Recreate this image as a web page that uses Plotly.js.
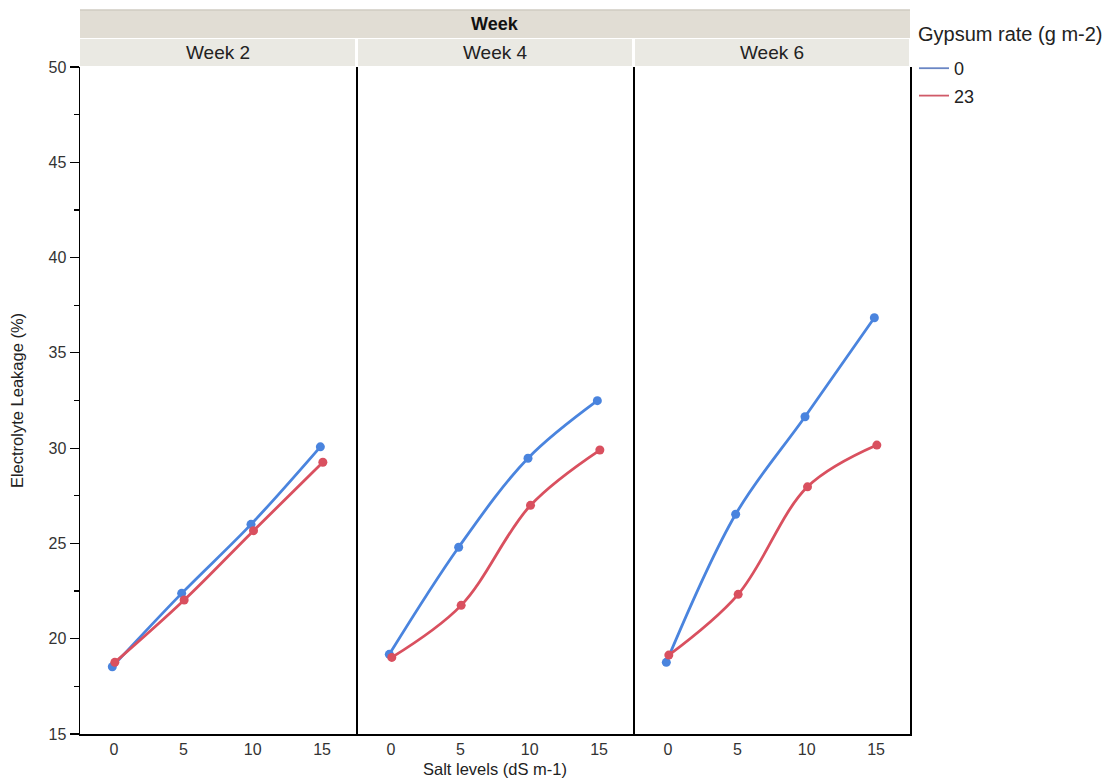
<!DOCTYPE html>
<html>
<head>
<meta charset="utf-8">
<script src="https://cdn.plot.ly/plotly-3.0.1.min.js"></script>
<style>html,body{margin:0;padding:0;background:#fff}#chart{width:1115px;height:780px}</style>
</head>
<body>
<div id="chart"></div>
<script>
// ---- data ----
const saltLevels = [0, 5, 10, 15];
const weeks = ["Week 2", "Week 4", "Week 6"];
const gypsumRates = ["0", "23"];
const week2_g0  = [18.53, 22.38, 26.00, 30.07];
const week2_g23 = [18.76, 22.03, 25.67, 29.26];
const week4_g0  = [19.18, 24.80, 29.47, 32.49];
const week4_g23 = [19.02, 21.75, 27.00, 29.90];
const week6_g0  = [18.76, 26.53, 31.65, 36.84];
const week6_g23 = [19.14, 22.33, 27.97, 30.16];
const yTicks = [15, 20, 25, 30, 35, 40, 45, 50];

const series = {
  "0":  [week2_g0, week4_g0, week6_g0],
  "23": [week2_g23, week4_g23, week6_g23]
};
const colors = {"0": "#4a84de", "23": "#d9505f"};
const legendColors = {"0": "#6a86c4", "23": "#d05a68"};
const dodge = {"0": -0.12, "23": 0.06};

const traces = [];
weeks.forEach((w, i) => {
  const xa = i === 0 ? "x" : "x" + (i + 1);
  const ya = i === 0 ? "y" : "y" + (i + 1);
  gypsumRates.forEach(g => {
    traces.push({
      type: "scatter", mode: "lines+markers",
      x: saltLevels.map(v => v + dodge[g]), y: series[g][i],
      xaxis: xa, yaxis: ya,
      line: {color: colors[g], width: 2.8, shape: "spline", smoothing: 1},
      marker: {color: colors[g], size: 9},
      showlegend: false, hoverinfo: "x+y"
    });
  });
});
gypsumRates.forEach(g => {
  traces.push({
    type: "scatter", mode: "lines", x: [null], y: [null],
    name: g, legendgroup: "g" + g,
    line: {color: legendColors[g], width: 1.8}, showlegend: true
  });
});

const W = 1115, H = 780, L = 80, R = 910, T = 67, B = 734;
const pw = R - L, ph = B - T;
const px = v => (v - L) / pw;
const py = v => (B - v) / ph;
const panels = [[80, 356], [357, 633], [634, 910]];

const font = {family: "Liberation Sans, Arial, sans-serif", color: "#222"};
const layout = {
  width: W, height: H,
  margin: {l: L, r: W - R, t: T, b: H - B},
  paper_bgcolor: "#fff", plot_bgcolor: "#fff",
  font: font,
  showlegend: true,
  legend: {
    x: px(914), y: py(50), xanchor: "left", yanchor: "top",
    font: {size: 18, color: "#222"}, itemwidth: 30, tracegroupgap: 1,
    bgcolor: "rgba(0,0,0,0)"
  },
  shapes: [], annotations: []
};

panels.forEach((p, i) => {
  const sfx = i === 0 ? "" : String(i + 1);
  layout["xaxis" + sfx] = {
    domain: [px(p[0]), px(p[1])],
    range: [-2.45, 17.45], anchor: "y" + sfx,
    tickvals: saltLevels, ticktext: saltLevels.map(String),
    ticks: "", showgrid: false, zeroline: false,
    showline: true, linecolor: "#000", linewidth: 1.5,
    tickfont: {size: 16, color: "#333"}
  };
  layout["yaxis" + sfx] = {
    domain: [0, 1], range: [15, 50], anchor: "x" + sfx,
    showgrid: false, zeroline: false,
    showline: true, mirror: true, linecolor: "#000", linewidth: 1.5,
    tickvals: yTicks, ticktext: yTicks.map(String),
    showticklabels: i === 0,
    ticks: i === 0 ? "outside" : "", ticklen: 9, tickwidth: 1.2, tickcolor: "#000",
    tickfont: {size: 16, color: "#333"},
    minor: i === 0 ? {dtick: 2.5, tick0: 15, ticks: "outside", ticklen: 5, tickwidth: 1.2, tickcolor: "#000", showgrid: false} : undefined
  };
  layout.shapes.push({
    type: "rect", xref: "paper", yref: "paper",
    x0: px(p[0] + (i === 0 ? 0 : 1)), x1: px(p[1] - 1), y0: py(66), y1: py(39),
    fillcolor: "#eae9e3", line: {width: 0}, layer: "below"
  });
  layout.annotations.push({
    xref: "paper", yref: "paper", x: px((p[0] + p[1]) / 2), y: py(52),
    text: weeks[i], showarrow: false, xanchor: "center", yanchor: "middle",
    font: {size: 19, color: "#222"}
  });
});
layout.xaxis2.title = {text: "Salt levels (dS m-1)", font: {size: 16.5, color: "#222"}, standoff: 6};
layout.yaxis.title = {text: "Electrolyte Leakage (%)", font: {size: 16.5, color: "#222"}, standoff: 20};

layout.shapes.push({
  type: "rect", xref: "paper", yref: "paper",
  x0: 0, x1: 1, y0: py(38), y1: py(10),
  fillcolor: "#e1ddd4", line: {width: 0}, layer: "below"
});
layout.shapes.push({
  type: "line", xref: "paper", yref: "paper",
  x0: 0, x1: 1, y0: py(10), y1: py(10),
  line: {color: "#cfcbc2", width: 1.5}
});
layout.annotations.push({
  xref: "paper", yref: "paper", x: 0.5, y: py(24),
  text: "<b>Week</b>", showarrow: false, xanchor: "center", yanchor: "middle",
  font: {size: 18, color: "#111"}
});
layout.annotations.push({
  xref: "paper", yref: "paper", x: px(916), y: py(34),
  text: "Gypsum rate (g m-2)", showarrow: false, xanchor: "left", yanchor: "middle",
  font: {size: 20, color: "#222"}
});

Plotly.newPlot("chart", traces, layout, {displayModeBar: false, staticPlot: true});
</script>
</body>
</html>
